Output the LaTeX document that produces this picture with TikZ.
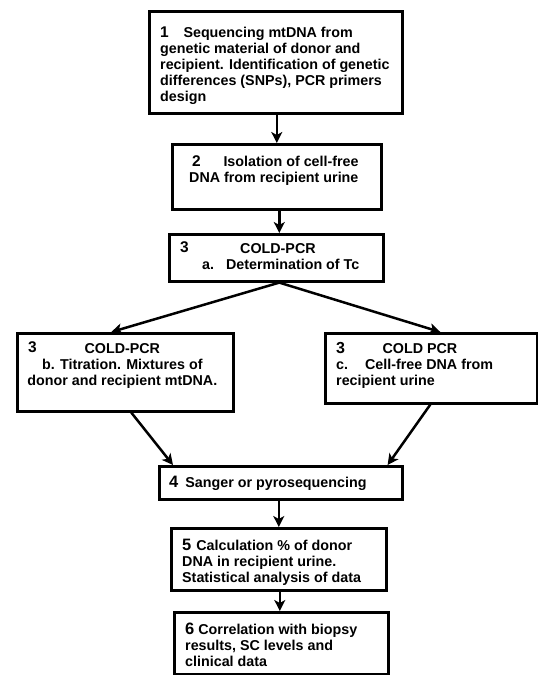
\documentclass[tikz,border=0pt]{standalone}
\usepackage{fontspec}
\setmainfont{Liberation Sans}
\usetikzlibrary{arrows.meta,calc}
\newcommand\bnum[2][15.5]{{\fontsize{#1}{16}\selectfont #2}}
\tikzset{
  box/.style={draw=black, line width=2.6pt, rectangle, inner sep=0pt, fill=white, anchor=north west},
  txt/.style={inner sep=0pt, font=\bfseries\fontsize{14.3}{16}\selectfont, align=left, anchor=base west},
  ctxt/.style={inner sep=0pt, font=\bfseries\fontsize{14.3}{16}\selectfont, align=center, anchor=base},
  arr/.style={line width=2.5pt, -{Stealth[length=11pt,width=11pt,inset=3pt]}}
}
\begin{document}
\begin{tikzpicture}[x=1pt,y=-1pt]
\useasboundingbox (0,0) rectangle (538,675);
% boxes
\node[box, minimum width=253pt, minimum height=102pt] (b1) at (148,10) {};
\node[box, minimum width=209pt, minimum height=65pt] (b2) at (171,143) {};
\node[box, minimum width=214pt, minimum height=47pt] (b3a) at (168,233) {};
\node[box, minimum width=216pt, minimum height=78pt] (b3b) at (16,332) {};
\node[box, minimum width=212pt, minimum height=70pt] (b3c) at (324,332) {};
\node[box, minimum width=243pt, minimum height=33pt] (b4) at (158,465) {};
\node[box, minimum width=215pt, minimum height=62pt] (b5) at (170,527) {};
\node[box, minimum width=214pt, minimum height=62pt] (b6) at (173,611) {};
% texts (base anchor = baseline of last line)
\node[txt] (t1) at ($(b1.north west)+(12,91)$) {\bnum{1}\hspace{14.7pt}Sequencing mtDNA from\\genetic material of donor and\\recipient. Identification of genetic\\differences (SNPs), PCR primers\\design};
\node[txt] (t2) at ($(b2.north west)+(18,39)$) {\hspace*{3pt}\bnum{2}\hspace{22.7pt}Isolation of cell-free\\DNA from recipient urine};
\node[txt] (n3a) at ($(b3a.north west)+(12,19)$) {\bnum{3}};
\node[txt] (t3a) at ($(b3a.north west)+(34,36)$) {\hspace*{38pt}COLD-PCR\\a.\hspace{12pt}Determination of Tc};
\node[txt] (n3b) at ($(b3b.north west)+(12,20)$) {\bnum{3}};
\node[ctxt] (t3b) at ($(b3b.north)+(-3,53)$) {COLD-PCR\\b. Titration. Mixtures of\\donor and recipient mtDNA.};
\node[txt] (t3c) at ($(b3c.north west)+(12,53)$) {\bnum[16]{3}\hspace{37.5pt}COLD PCR\\c.\hspace{17pt}Cell-free DNA from\\recipient urine};
\node[txt] (t4) at ($(b4.north west)+(11,22)$) {\bnum[16.5]{4}\hspace{7pt}Sanger or pyrosequencing};
\node[txt] (t5) at ($(b5.north west)+(12,55)$) {\bnum[16.5]{5}\hspace{5pt}Calculation \% of donor\\DNA in recipient urine.\\Statistical analysis of data};
\node[txt] (t6) at ($(b6.north west)+(12,55)$) {\bnum[16.5]{6}\hspace{4pt}Correlation with biopsy\\results, SC levels and\\clinical data};
% arrows
\draw[arr] (b2.north |- b1.south) -- (b2.north);
\draw[arr] ($(b2.south)+(2.5,0)$) -- ($(b3a.north)+(3,0)$);
\draw[arr] ($(b3a.south)+(3,0)$) -- ($(b3b.north)+(-14,0)$);
\draw[arr] ($(b3a.south)+(3,0)$) -- ($(b3c.north)+(9,0)$);
\draw[arr] ($(b3b.south)+(6,0)$) -- ($(b4.north west)+(15,0)$);
\draw[arr] ($(b3c.south)+(-1,0)$) -- ($(b4.north east)+(-16,0)$);
\draw[arr] (b5.north |- b4.south) -- (b5.north);
\draw[arr] ($(b5.south)+(1,0)$) -- ($(b6.north)+(-1.5,0)$);
\end{tikzpicture}
\end{document}
